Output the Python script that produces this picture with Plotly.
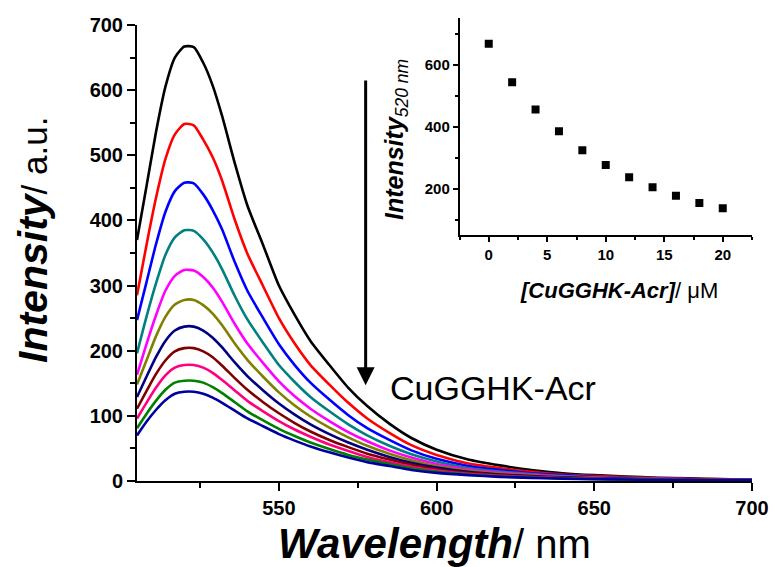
import plotly.graph_objects as go

# ---------------- data ----------------
wavelength = [505, 508, 511, 514, 517, 520, 523, 526, 529, 532, 536, 540, 545, 550, 555,
              560, 566, 572, 578, 585, 592, 600, 610, 620, 630, 640, 650, 660, 670, 680,
              690, 700]

conc_0uM = [370, 452, 535, 605, 650, 667, 666, 642, 607, 560, 488, 423, 362, 300, 255,
            215, 178, 143, 115, 88, 66, 48, 33, 24, 17, 12, 9, 7, 5, 4, 3, 2]
conc_2uM = [285, 362, 434, 494, 532, 548, 546, 524, 497, 461, 401, 349, 299, 250, 211,
            178, 148, 120, 96, 74, 55, 40, 27, 20, 14, 10, 8, 6, 4.5, 3.5, 2.7, 2]
conc_4uM = [247, 305, 363, 413, 445, 458, 457, 440, 416, 386, 336, 292, 250, 210, 178,
            151, 125, 101, 81, 63, 47, 34, 23, 17, 12, 9, 6.5, 5, 4, 3, 2.5, 2]
conc_6uM = [196, 252, 303, 347, 374, 385, 384, 371, 351, 325, 284, 248, 212, 178, 152,
            129, 107, 87, 70, 54, 41, 30, 20, 14.5, 10.5, 7.5, 5.5, 4.5, 3.5, 2.8, 2.2, 1.8]
conc_8uM = [163, 210, 254, 292, 315, 324, 323, 313, 297, 275, 241, 211, 181, 153, 130,
            111, 92, 75, 61, 47, 36, 26, 18, 13, 9.5, 7, 5, 4, 3.2, 2.5, 2, 1.6]
conc_10uM = [148, 185, 222, 252, 271, 278, 278, 270, 257, 239, 211, 186, 160, 136, 116,
             99, 82, 67, 54, 42, 32, 23, 16, 11.5, 8.5, 6.3, 4.6, 3.7, 3, 2.3, 1.9, 1.5]
conc_12uM = [129, 160, 190, 215, 231, 237, 237, 231, 220, 205, 182, 161, 139, 119, 102,
             87, 72, 59, 48, 37, 28, 20.5, 14, 10, 7.5, 5.5, 4.2, 3.3, 2.7, 2.1, 1.7, 1.4]
conc_14uM = [111, 138, 164, 185, 199, 204, 204, 199, 190, 177, 158, 140, 121, 104, 89,
             76, 63, 52, 42, 33, 25, 18, 12.5, 9, 6.7, 5, 3.8, 3, 2.4, 1.9, 1.5, 1.2]
conc_16uM = [96, 120, 143, 162, 174, 178, 178, 174, 166, 155, 139, 123, 107, 92, 79,
             68, 56, 46, 37, 29, 22, 16, 11, 8, 6, 4.5, 3.4, 2.7, 2.1, 1.7, 1.4, 1.1]
conc_18uM = [81, 103, 123, 140, 151, 154, 154, 151, 144, 135, 121, 107, 93, 80, 69,
             59, 49, 40, 33, 26, 19.5, 14, 10, 7, 5.3, 4, 3, 2.4, 1.9, 1.5, 1.2, 1]
conc_20uM = [70, 91, 109, 124, 134, 137, 137, 134, 128, 120, 108, 96, 84, 72, 62,
             53, 44, 36, 29, 23, 17, 12.5, 9, 6.3, 4.8, 3.6, 2.7, 2.2, 1.7, 1.4, 1.1, 0.9]

spectra = [conc_0uM, conc_2uM, conc_4uM, conc_6uM, conc_8uM, conc_10uM,
           conc_12uM, conc_14uM, conc_16uM, conc_18uM, conc_20uM]
spectrum_colors = ["#000000", "#FF0000", "#0000FF", "#008080", "#FF00FF", "#808000",
                   "#000080", "#800000", "#FF0080", "#008000", "#0000A0"]

inset_conc = [0, 2, 4, 6, 8, 10, 12, 14, 16, 18, 20]
inset_intensity = [667, 543, 455, 385, 323, 276, 236, 204, 177, 153, 136]

# ---------------- figure ----------------
FONT = "Arial, Liberation Sans, sans-serif"
fig = go.Figure()

for vals, col in zip(spectra, spectrum_colors):
    fig.add_trace(go.Scatter(x=wavelength, y=vals, mode="lines",
                             line=dict(color=col, width=2.6, shape="spline", smoothing=0.6),
                             showlegend=False, hoverinfo="skip", xaxis="x", yaxis="y"))

fig.add_trace(go.Scatter(x=inset_conc, y=inset_intensity, mode="markers",
                         marker=dict(symbol="square", size=8, color="black"),
                         showlegend=False, xaxis="x2", yaxis="y2"))

axis_common = dict(showline=True, linewidth=2, linecolor="black", showgrid=False,
                   zeroline=False, ticks="outside", tickwidth=2, tickcolor="black",
                   mirror=False, automargin=False)

FIG_W, FIG_H = 773, 567
PLOT_L, PLOT_R, PLOT_T, PLOT_B = 137, 752, 18, 481   # plot box in page pixels
PW, PH = PLOT_R - PLOT_L, PLOT_B - PLOT_T

main_y_top = (PLOT_B - 25) / PH


def px(xs):
    return (xs - PLOT_L) / PW


def py(ys):
    return (PLOT_B - ys) / PH


fig.update_layout(
    width=FIG_W, height=FIG_H,
    margin=dict(l=PLOT_L, r=FIG_W - PLOT_R, t=PLOT_T, b=FIG_H - PLOT_B),
    paper_bgcolor="white", plot_bgcolor="white",
    font=dict(family=FONT, color="black"),
    xaxis=dict(range=[505, 700], domain=[0, 1], tick0=500, dtick=50, ticklen=8,
               tickfont=dict(size=20, family=FONT, weight="bold"),
               minor=dict(dtick=25, tick0=500, ticklen=5, tickwidth=2, tickcolor="black", ticks="outside"),
               **axis_common),
    yaxis=dict(range=[0, 700], domain=[0, main_y_top], tick0=0, dtick=100, ticklen=8,
               tickfont=dict(size=20, family=FONT, weight="bold"),
               minor=dict(dtick=50, tick0=0, ticklen=5, tickwidth=2, tickcolor="black", ticks="outside"),
               **axis_common),
    xaxis2=dict(range=[-2.5, 22.5], domain=[px(459.5), 1.0], anchor="y2", tick0=0, dtick=5, ticklen=5,
                tickfont=dict(size=15, family=FONT, weight="bold"),
                minor=dict(dtick=2.5, tick0=0, ticklen=3, tickwidth=1.5, tickcolor="black", ticks="outside"),
                **{**axis_common, "linewidth": 1.5, "tickwidth": 1.5}),
    yaxis2=dict(range=[50, 750], domain=[py(235), 1.0], anchor="x2", tick0=0, dtick=200, ticklen=5,
                tickfont=dict(size=15, family=FONT, weight="bold"),
                minor=dict(dtick=100, tick0=0, ticklen=3, tickwidth=1.5, tickcolor="black", ticks="outside"),
                **{**axis_common, "linewidth": 1.5, "tickwidth": 1.5}),
)

annotations = [
    # main x title
    dict(text="<b><i>Wavelength</i></b><span style='font-size:40px'>/ nm</span>",
         xref="paper", yref="paper",
         x=px(434), y=py(543), xanchor="center", yanchor="middle",
         showarrow=False, font=dict(size=42, family=FONT, color="black")),
    # main y title
    dict(text="<b><i>Intensity</i></b><span style='font-size:35px'>/ a.u.</span>",
         xref="paper", yref="paper",
         x=px(33), y=py(240), xanchor="center", yanchor="middle",
         textangle=-90, showarrow=False, font=dict(size=41, family=FONT, color="black")),
    # inset x title
    dict(text="<b><i>[CuGGHK-Acr]</i></b>/ μM", xref="paper", yref="paper",
         x=px(619), y=py(290), xanchor="center", yanchor="middle",
         showarrow=False, font=dict(size=22, family=FONT, color="black")),
    # inset y title
    dict(text="<b><i>Intensity</i></b><sub><i>520 nm</i></sub>", xref="paper", yref="paper",
         x=px(396), y=py(140), xanchor="center", yanchor="middle",
         textangle=-90, showarrow=False, font=dict(size=25, family=FONT, color="black")),
    # arrow
    dict(text="", x=577.5, y=147, xref="x", yref="y", ax=577.5, ay=617, axref="x", ayref="y",
         showarrow=True, arrowhead=2, arrowsize=1.2, arrowwidth=3, arrowcolor="black"),
    # label
    dict(text="CuGGHK-Acr", x=584.6, y=143, xref="x", yref="y", xanchor="left", yanchor="middle",
         showarrow=False, font=dict(size=34, family=FONT, color="black")),
]
fig.update_layout(annotations=annotations)

fig.write_html("out.html",
               config={"displayModeBar": False},
               post_script="document.body.style.margin='0px';document.body.style.overflow='hidden';")
